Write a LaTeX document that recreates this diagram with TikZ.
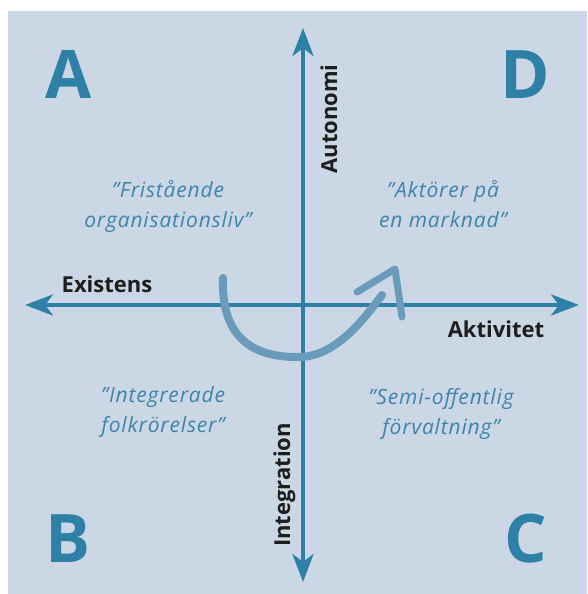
\documentclass[tikz,border=0pt]{standalone}
\usepackage{fontspec}
\setmainfont{Open Sans}
\usepackage{xcolor}
\usetikzlibrary{arrows.meta, positioning}

\definecolor{bgblue}{RGB}{203,215,228}
\definecolor{axisblue}{RGB}{46,128,166}
\definecolor{turnblue}{RGB}{106,155,187}
\definecolor{quadblue}{RGB}{62,132,172}
\definecolor{darktext}{RGB}{30,30,30}

\begin{document}
\begin{tikzpicture}[
    x=1pt, y=-1pt,
    >={Stealth[length=28pt, width=21pt, inset=8pt]},
    % styles
    axis/.style={<->, line width=4.5pt, color=axisblue},
    axislabel/.style={font=\fontsize{22}{24}\selectfont\bfseries, text=darktext, inner sep=0pt},
    quadletter/.style={font=\fontsize{67}{70}\selectfont\bfseries, text=axisblue, inner sep=0pt, anchor=base},
    quadtext/.style={font=\fontsize{21}{30}\selectfont\itshape\addfontfeatures{LetterSpace=4}, text=quadblue, align=center, inner sep=0pt},
    turn/.style={line width=8pt, color=turnblue, line cap=round, line join=round}
]

% ========== CANVAS ==========
\useasboundingbox (0,0) rectangle (587,594);
\fill[bgblue] (8,11) rectangle (587,594);

% ========== AXES ==========
\coordinate (west) at (25,305);
\coordinate (east) at (579,305);
\coordinate (north) at (303,28);
\coordinate (south) at (303,582);

\draw[axis] (west) -- (east);
\draw[axis] (south) -- (north);

% axis labels
\node[axislabel, anchor=base] (existens) at (107,292) {Existens};
\node[axislabel, anchor=base] (aktivitet) at (496,337) {Aktivitet};
\node[axislabel, anchor=base, rotate=90] (autonomi) at (337,119) {Autonomi};
\node[axislabel, anchor=base, rotate=90] (integration) at (290,485) {Integration};

% ========== QUADRANTS ==========
\node[quadletter] (qa) at (69,98) {A};
\node[quadletter] (qd) at (525,98) {D};
\node[quadletter] (qb) at (68,562) {B};
\node[quadletter] (qc) at (526,562) {C};

\node[quadtext] (fristaende) at (168,206) {”Fristående\\organisationsliv”};
\node[quadtext] (aktorer) at (443,204) {”Aktörer på\\en marknad”};
\node[quadtext] (integrerade) at (163,412) {”Integrerade\\folkrörelser”};
\node[quadtext] (semioff) at (441,414) {”Semi-offentlig\\förvaltning”};

% ========== TURNING ARROW ==========
\coordinate (turnstart) at (223,278);
\coordinate (turnlow) at (300,357);
\coordinate (turnend) at (382,295);
\coordinate (turntip) at (395,269);
\coordinate (wingleft) at (357,292);
\coordinate (wingright) at (402,317);

\draw[turn] (turnstart) .. controls (221,335) and (250,358) .. (turnlow)
    .. controls (335,356) and (362,322) .. (turnend);
\draw[turn, line width=7pt] (wingleft) -- (turntip) -- (wingright);

\end{tikzpicture}
\end{document}
